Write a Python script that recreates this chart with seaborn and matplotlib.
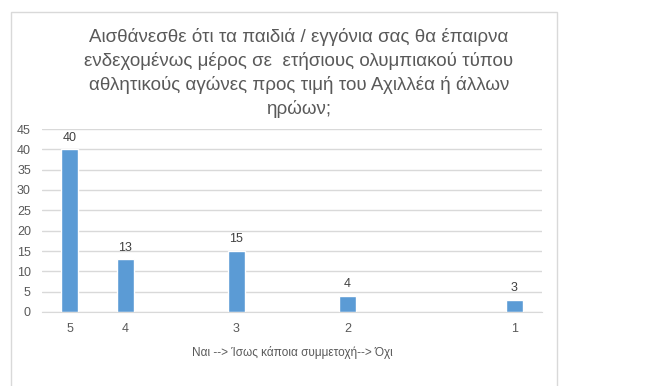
import numpy as np
import pandas as pd
import seaborn as sns
import matplotlib.pyplot as plt
from matplotlib.patches import Rectangle

# answer scale as laid out in the source sheet (blank rows kept as gaps)
answers = ["5", "4", " ", "3", "  ", "2", "   ", "    ", "1"]
counts = [40, 13, np.nan, 15, np.nan, 4, np.nan, np.nan, 3]
title = ("Αισθάνεσθε ότι τα παιδιά / εγγόνια σας θα έπαιρνα\n"
         "ενδεχομένως μέρος σε  ετήσιους ολυμπιακού τύπου\n"
         "αθλητικούς αγώνες προς τιμή του Αχιλλέα ή άλλων\n"
         "ηρώων;")
xlabel = "Ναι --> Ίσως κάποια συμμετοχή--> Όχι"

df = pd.DataFrame({"answer": answers, "count": counts})

sns.set_style("white")
plt.rcParams["font.family"] = ["Liberation Sans", "DejaVu Sans"]

fig = plt.figure(figsize=(6.48, 3.86), dpi=100)
ax = fig.add_axes([42 / 648, 1 - 312 / 386, 500 / 648, 183 / 386])

sns.barplot(data=df, x="answer", y="count", order=answers, color="#5B9BD5",
            width=0.31, saturation=1, ax=ax)
for c in ax.containers:
    ax.bar_label(c, fmt="%d", padding=4, fontsize=9, color="#404040")

ax.set_xlim(-0.5, len(answers) - 0.5)
ax.set_ylim(0, 45)
ax.set_yticks(np.arange(0, 46, 5))
ax.yaxis.grid(True, color="#D9D9D9", linewidth=1)
ax.set_axisbelow(True)
for s in ["top", "right", "left"]:
    ax.spines[s].set_visible(False)
ax.spines["bottom"].set_color("#D9D9D9")
ax.tick_params(axis="both", length=0, labelsize=9, labelcolor="#595959")
ax.tick_params(axis="y", pad=8)
ax.tick_params(axis="x", pad=8)
ax.set_ylabel("")
ax.set_xlabel(xlabel, fontsize=8.5, color="#595959", labelpad=8)

fig.text(299 / 648, 1 - 28 / 386, title, ha="center", va="top",
         fontsize=13.5, color="#595959", linespacing=1.42)

fig.patches.append(Rectangle((11 / 648, -0.05), 546 / 648, 1.05 - 12 / 386,
                             transform=fig.transFigure, fill=False,
                             edgecolor="#D9D9D9", linewidth=1))

fig.savefig("out.png", dpi=100)
